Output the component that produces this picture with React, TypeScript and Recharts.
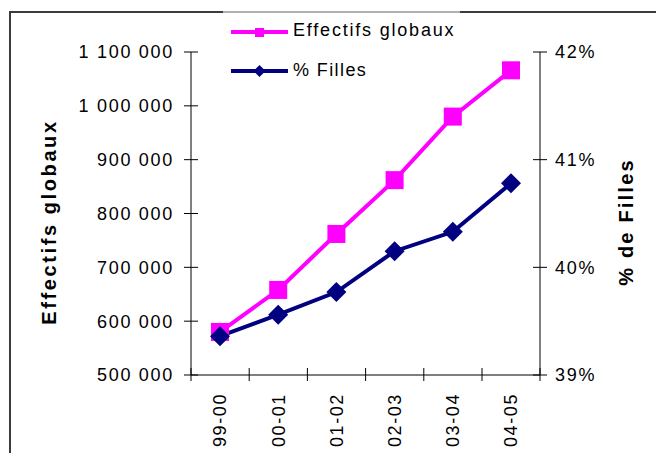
import React from "react";
import { LineChart, Line, XAxis, YAxis } from "recharts";

const categories = ["99-00", "00-01", "01-02", "02-03", "03-04", "04-05"];
const effectifs = [580000, 658000, 762000, 862000, 980000, 1066000];
const filles = [39.36, 39.56, 39.77, 40.15, 40.33, 40.78];
const leftTicks = [500000, 600000, 700000, 800000, 900000, 1000000, 1100000];
const rightTicks = [39, 40, 41, 42];

const data = categories.map((c, i) => ({ cat: c, effectifs: effectifs[i], filles: filles[i] }));

const FONT = "'Liberation Sans', Arial, sans-serif";
const PINK = "#ff00ff";
const NAVY = "#000080";
const HALF = 29;

const fmtNum = (v: number) => String(v).replace(/\B(?=(\d{3})+(?!\d))/g, " ");

const LeftTick = (props: any) => {
    const { x, y, payload } = props;
    return (
        <g>
            <line x1={x - 7} x2={x + 7} y1={y} y2={y} stroke="#000" />
            <text x={x - 17} y={y} dy="0.36em" textAnchor="end" fontSize={18} letterSpacing={1.7} fontFamily={FONT} fill="#000">
                {fmtNum(payload.value)}
            </text>
        </g>
    );
};

const RightTick = (props: any) => {
    const { x, y, payload } = props;
    return (
        <g>
            <line x1={x - 7} x2={x + 7} y1={y} y2={y} stroke="#000" />
            <text x={x + 15} y={y} dy="0.36em" textAnchor="start" fontSize={18} letterSpacing={1.8} fontFamily={FONT} fill="#000">
                {payload.value + "%"}
            </text>
        </g>
    );
};

const BottomTick = (props: any) => {
    const { x, y, payload, index } = props;
    return (
        <g>
            <line x1={x - HALF} x2={x - HALF} y1={y - 7} y2={y + 6} stroke="#000" />
            {index === categories.length - 1 && (
                <line x1={x + HALF} x2={x + HALF} y1={y - 7} y2={y + 6} stroke="#000" />
            )}
            <text
                x={x}
                y={y + 18}
                transform={`rotate(-90 ${x} ${y + 18})`}
                textAnchor="end"
                dy="0.36em"
                fontSize={18}
                letterSpacing={1.6}
                fontFamily={FONT}
                fill="#000"
            >
                {payload.value}
            </text>
        </g>
    );
};

const SquareDot = (props: any) => {
    const { cx, cy } = props;
    return <rect x={cx - 9} y={cy - 9} width={18} height={18} fill={PINK} />;
};

const DiamondDot = (props: any) => {
    const { cx, cy } = props;
    return <polygon points={`${cx},${cy - 10} ${cx + 10},${cy} ${cx},${cy + 10} ${cx - 10},${cy}`} fill={NAVY} />;
};

export default function App() {
    return (
        <div style={{ position: "absolute", left: 0, top: 0, width: 656, height: 453, overflow: "hidden", background: "#fff" }}>
            <div
                style={{
                    position: "absolute",
                    left: 9,
                    top: 11,
                    width: 700,
                    height: 500,
                    border: "2px solid #3c3c3c",
                }}
            />
            <LineChart width={656} height={453} data={data} margin={{ top: 52, right: 0, bottom: 0, left: 0 }}>
                <XAxis
                    dataKey="cat"
                    height={78}
                    padding={{ left: HALF, right: HALF }}
                    tickSize={0}
                    tickMargin={0}
                    tickLine={false}
                    stroke="#000"
                    tick={<BottomTick />}
                    interval={0}
                />
                <YAxis
                    yAxisId="left"
                    width={191}
                    domain={[500000, 1100000]}
                    ticks={leftTicks}
                    tickSize={0}
                    tickMargin={0}
                    tickLine={false}
                    stroke="#000"
                    tick={<LeftTick />}
                    interval={0}
                />
                <YAxis
                    yAxisId="right"
                    orientation="right"
                    width={116}
                    domain={[39, 42]}
                    ticks={rightTicks}
                    tickSize={0}
                    tickMargin={0}
                    tickLine={false}
                    stroke="#000"
                    tick={<RightTick />}
                    interval={0}
                />
                <Line
                    yAxisId="left"
                    dataKey="effectifs"
                    stroke={PINK}
                    strokeWidth={4}
                    dot={<SquareDot />}
                    isAnimationActive={false}
                />
                <Line
                    yAxisId="right"
                    dataKey="filles"
                    stroke={NAVY}
                    strokeWidth={4}
                    dot={<DiamondDot />}
                    isAnimationActive={false}
                />
            </LineChart>
            <svg width={656} height={453} style={{ position: "absolute", left: 0, top: 0, pointerEvents: "none" }}>
                <line x1={223} x2={460} y1={12} y2={12} stroke="#b0b0b0" strokeWidth={2} />
                <line x1={231} x2={288} y1={32} y2={32} stroke={PINK} strokeWidth={4} />
                <rect x={255} y={28} width={9} height={9} fill={PINK} />
                <text x={293} y={30} dy="0.36em" fontSize={18} letterSpacing={1.8} fontFamily={FONT} fill="#000">
                    Effectifs globaux
                </text>
                <line x1={231} x2={288} y1={71} y2={71} stroke={NAVY} strokeWidth={4} />
                <polygon points="259.5,65 265.5,71 259.5,77 253.5,71" fill={NAVY} />
                <text x={293} y={70} dy="0.36em" fontSize={18} letterSpacing={1.4} fontFamily={FONT} fill="#000">
                    % Filles
                </text>
                <text
                    x={49}
                    y={222}
                    transform="rotate(-90 49 222)"
                    textAnchor="middle"
                    dy="0.36em"
                    fontSize={20}
                    fontWeight="bold"
                    letterSpacing={2.6}
                    fontFamily={FONT}
                    fill="#000"
                >
                    Effectifs globaux
                </text>
                <text
                    x={626}
                    y={222}
                    transform="rotate(-90 626 222)"
                    textAnchor="middle"
                    dy="0.36em"
                    fontSize={20}
                    fontWeight="bold"
                    letterSpacing={2.2}
                    fontFamily={FONT}
                    fill="#000"
                >
                    % de Filles
                </text>
            </svg>
        </div>
    );
}
